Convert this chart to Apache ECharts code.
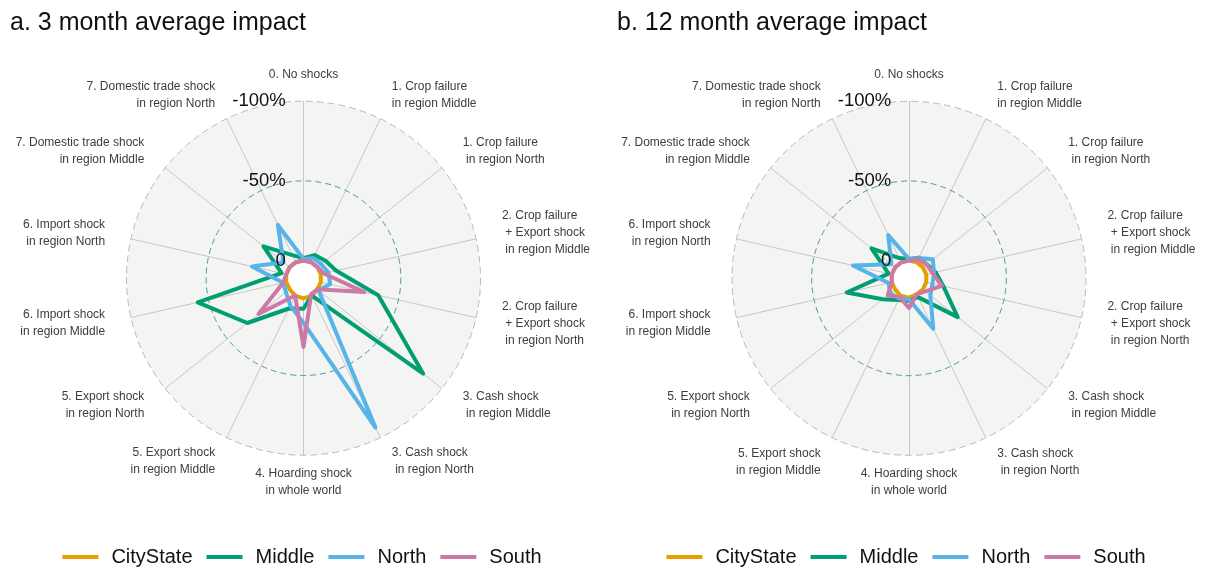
<!DOCTYPE html>
<html>
<head>
<meta charset="utf-8">
<script src="https://cdn.jsdelivr.net/npm/echarts@6/dist/echarts.min.js"></script>
<style>
  html, body { margin: 0; padding: 0; background: #ffffff; }
  #wrap { display: flex; width: 1208px; height: 568px; }
  .panel { width: 604px; height: 568px; }
</style>
</head>
<body>
<div id="wrap">
  <div id="chart3m" class="panel"></div>
  <div id="chart12m" class="panel"></div>
</div>
<script>
// Shock scenarios, clockwise from the top
const scenarios = [
  '0. No shocks',
  '1. Crop failure\nin region Middle',
  '1. Crop failure\n in region North',
  '2. Crop failure\n + Export shock\n in region Middle',
  '2. Crop failure\n + Export shock\n in region North',
  '3. Cash shock\n in region Middle',
  '3. Cash shock\n in region North',
  '4. Hoarding shock\nin whole world',
  '5. Export shock\nin region Middle',
  '5. Export shock\nin region North',
  '6. Import shock\nin region Middle',
  '6. Import shock\nin region North',
  '7. Domestic trade shock\nin region Middle',
  '7. Domestic trade shock\nin region North'
];

const regions = ['CityState', 'Middle', 'North', 'South'];
const regionColors = ['#E69F00', '#009E73', '#56B4E9', '#CC79A7'];

// Average impact (%) per scenario, 3 months after the shock
const cityState3m = [0, 0, 0, 0, 0, 0, -1, -1.5, -1, 0, 0, 0, 0, 0];
const middle3m    = [-1.5, -5, -6.5, -10, -37, -85, -1, -8, -10, -34, -57, -3, -21, -5];
const north3m     = [-1, -3, -3, -5, -6, -1, -93, -17, -8, -3, -2, -22, -5, -26];
const south3m     = [0, 0, 0, -2, -28, 0, 0, -32, -1, -25, -2, 0, 0, 0];

// Average impact (%) per scenario, 12 months after the shock
const cityState12m = [0, 0, 0, 0, 0, 0, 0, -1, -1, 0, 0, 0, 0, 0];
const middle12m    = [-1, -3.3, -3, -6, -11, -28, -2, -3, -4, -10, -29, -2, -19, -3];
const north12m     = [-1, -3, -8, -5, -4, -6, -24, -2, -3, -4, -2, -25, -3, -19];
const south12m     = [0, -2, -3, -4, -10, -2, 0, -7.5, -2, -6, 0, 0, 0, 0];

// Radial gridline values and their labels
const gridValues = [0, -50, -100];
const gridLabels = ['0', '-50%', '-100%'];

const FONT = '"Liberation Sans", Arial, Helvetica, sans-serif';
const HUB = -100 / 9;      // impact magnitude sitting at the very centre
const OUTER = 100;         // impact magnitude on the outer gridline
const R = 177;             // outer gridline radius, px
const LABEL_GAP = 0.15 * R;
const LINE_H = 17;

function radiusOf(mag) { return R * (mag - HUB) / (OUTER - HUB); }

// ECharts places radar indicators counter-clockwise, so walk the scenarios backwards
const order = scenarios.map((_, i) => (scenarios.length - i) % scenarios.length);

function indicators(nameOf) {
  return order.map(k => ({ name: nameOf(k), min: HUB, max: OUTER }));
}

function bareRadar(center, radius, extra) {
  return Object.assign({
    center: center, radius: radius, startAngle: 90, shape: 'circle', splitNumber: 1,
    indicator: indicators(() => ''),
    axisName: { show: false },
    axisLine: { show: false }, axisTick: { show: false }, axisLabel: { show: false },
    splitLine: { show: false }, splitArea: { show: false }
  }, extra);
}

function nameStyle() {
  return { show: true, color: '#3d3d3d', fontSize: 12, lineHeight: LINE_H, fontFamily: FONT };
}

function buildOption(title, titleLeft, cx, cy, seriesValues) {
  const center = [cx, cy];
  const radars = [
    // background disc, spokes, outer gridline and the side labels
    bareRadar(center, R, {
      z: 0,
      indicator: indicators(k => (k === 0 || k === 7) ? '' : scenarios[k]),
      axisName: nameStyle(),
      nameGap: LABEL_GAP,
      axisLine: { show: true, lineStyle: { color: '#c8c8c6', width: 1 } },
      splitLine: { show: true, lineStyle: { color: ['transparent', '#b9b9b9'], width: 1, type: [7, 4] } },
      splitArea: { show: true, areaStyle: { color: ['#f4f4f3'] } }
    }),
    // -50% gridline
    bareRadar(center, radiusOf(50), {
      z: 1,
      splitLine: { show: true, lineStyle: { color: ['transparent', '#4f9aa3'], width: 1, type: [6, 4] } }
    }),
    // white hub inside the 0 gridline
    bareRadar(center, radiusOf(0), {
      z: 1,
      splitArea: { show: true, areaStyle: { color: ['#ffffff'] } }
    }),
    // label above the top spoke
    bareRadar(center, R, {
      indicator: indicators(k => k === 0 ? scenarios[k] : ''),
      axisName: nameStyle(),
      nameGap: LABEL_GAP - LINE_H / 2
    }),
    // label below the bottom spoke
    bareRadar(center, R, {
      indicator: indicators(k => k === 7 ? scenarios[k] : ''),
      axisName: nameStyle(),
      nameGap: LABEL_GAP - LINE_H
    })
  ];

  return {
    animation: false,
    title: {
      text: title, left: titleLeft, top: 6,
      textStyle: { fontSize: 25, fontWeight: 'normal', color: '#111', fontFamily: FONT }
    },
    legend: {
      data: regions, left: 'center', top: 542, icon: 'rect',
      itemWidth: 36, itemHeight: 4, itemGap: 14, selectedMode: false,
      textStyle: { fontSize: 20, color: '#111', fontFamily: FONT, padding: [0, 0, 0, 8] }
    },
    radar: radars,
    series: [
      {
        type: 'radar', radarIndex: 0, symbol: 'none', silent: true, z: 3,
        data: regions.map((name, i) => ({
          name: name,
          value: order.map(k => -seriesValues[i][k]),
          lineStyle: { color: regionColors[i], width: 4, join: 'round', cap: 'round' },
          itemStyle: { color: regionColors[i] }
        }))
      },
      {
        // gridline value labels, hung off the top spoke
        type: 'radar', radarIndex: 0, symbol: 'circle', symbolSize: 0, silent: true, z: 4,
        lineStyle: { opacity: 0 },
        data: gridValues.map((v, i) => ({
          name: gridLabels[i],
          value: order.map(k => k === 0 ? -v : HUB)
        })),
        label: {
          show: true, position: 'left', distance: 0.1 * R,
          fontSize: 18.5, color: '#111', fontFamily: FONT,
          formatter: p => (typeof p.value === 'number' && Math.abs(p.value - HUB) > 1e-6) ? p.name : ''
        }
      }
    ]
  };
}

const chart3m = echarts.init(document.getElementById('chart3m'), null, { renderer: 'canvas' });
chart3m.setOption(buildOption('a. 3 month average impact', 5, 303.5, 278.2,
  [cityState3m, middle3m, north3m, south3m]));

const chart12m = echarts.init(document.getElementById('chart12m'), null, { renderer: 'canvas' });
chart12m.setOption(buildOption('b. 12 month average impact', 8, 305, 278.3,
  [cityState12m, middle12m, north12m, south12m]));
</script>
</body>
</html>
